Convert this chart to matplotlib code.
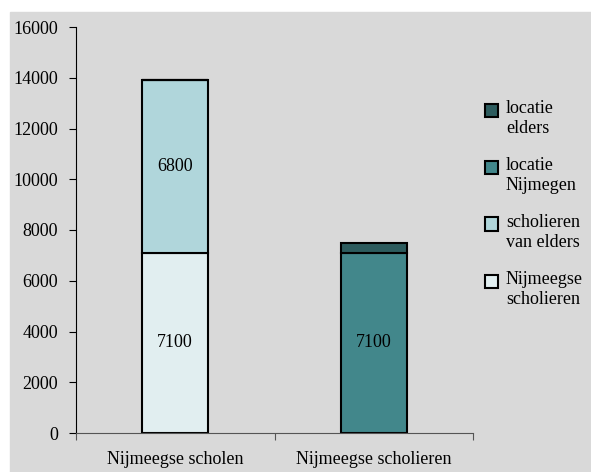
import matplotlib.pyplot as plt
import matplotlib.patches as mpatches
import numpy as np

categories = ["Nijmeegse scholen", "Nijmeegse scholieren"]
series = ["Nijmeegse\nscholieren", "scholieren\nvan elders", "locatie\nNijmegen", "locatie\nelders"]
values = {
    "Nijmeegse\nscholieren": [7100, 0],
    "scholieren\nvan elders": [6800, 0],
    "locatie\nNijmegen": [0, 7100],
    "locatie\nelders": [0, 400],
}
colors = ["#e1eef0", "#b0d6db", "#42878b", "#2d5c5e"]
yticks = [0, 2000, 4000, 6000, 8000, 10000, 12000, 14000, 16000]

plt.rcParams['font.family'] = ['Liberation Serif', 'DejaVu Serif']
plt.rcParams['font.size'] = 13

W, H = 591, 472
fig = plt.figure(figsize=(W / 100, H / 100), dpi=100)
fig.patches.append(mpatches.Rectangle((10 / W, 0), 1, 1 - 12 / H,
                                      transform=fig.transFigure, color="#d9d9d9", zorder=-10))
ax = fig.add_axes([76 / W, 39 / H, 397 / W, 406 / H])
ax.set_facecolor("none")

x = np.arange(len(categories))
bottom = np.zeros(len(categories))
for s, c in zip(series, colors):
    v = np.array(values[s], dtype=float)
    ax.bar(x, v, 0.33, bottom=bottom, color=c, edgecolor="black", linewidth=1.5, label=s)
    for i in range(len(x)):
        if v[i] > 1000:
            ax.text(x[i], bottom[i] + v[i] / 2, str(int(v[i])), ha="center", va="center", fontsize=13)
    bottom += v

ax.set_xlim(-0.5, 1.5)
ax.set_ylim(0, 16000)
ax.set_yticks(yticks)
ax.set_xticks([-0.5, 0.5, 1.5])
ax.set_xticklabels([])
ax.set_xticks(x, minor=True)
ax.set_xticklabels(categories, minor=True)
ax.tick_params(axis="x", which="minor", length=0, pad=13)
ax.tick_params(axis="x", which="major", length=5, direction="out", color="#555555")
ax.tick_params(axis="y", length=5, direction="out", pad=8)
ax.spines["top"].set_visible(False)
ax.spines["right"].set_visible(False)
ax.spines["bottom"].set_color("#555555")

# legend drawn by hand: square aligned with the first text line
for k, (s, c) in enumerate(zip(series[::-1], colors[::-1])):
    yc = 110 + k * 57
    fig.patches.append(mpatches.Rectangle((485 / W, 1 - (yc + 6.5) / H), 13 / W, 13 / H,
                                          transform=fig.transFigure, facecolor=c,
                                          edgecolor="black", linewidth=1.5))
    fig.text(506 / W, 1 - (yc - 10) / H, s, ha="left", va="top", fontsize=13, linespacing=1.2)

fig.savefig("out.png", dpi=100)
